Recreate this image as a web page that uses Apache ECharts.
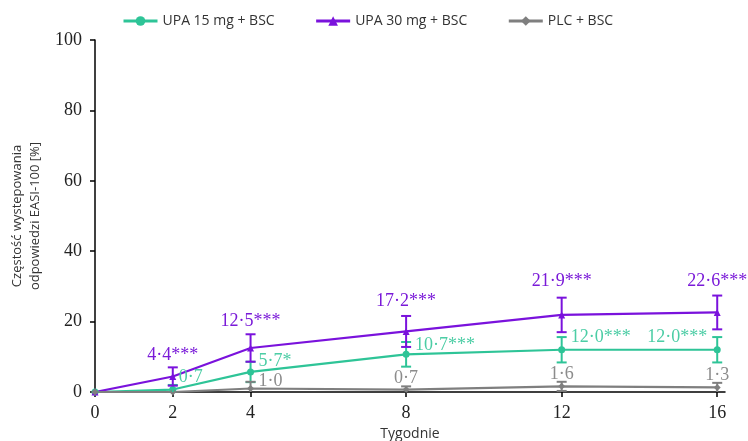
<!DOCTYPE html>
<html><head><meta charset="utf-8">
<script src="https://cdn.jsdelivr.net/npm/echarts@6/dist/echarts.min.js"></script>
<style>html,body{margin:0;padding:0;background:#fff}#c{width:748px;height:441px}</style>
</head><body><div id="c"></div>
<script>
// ---- data ----
const weeks = [0, 2, 4, 8, 12, 16];
const xTickLabels = [0, 2, 4, 8, 12, 16];
const seriesNames = ['UPA 15 mg + BSC', 'UPA 30 mg + BSC', 'PLC + BSC'];
const upa15 = [0, 0.7, 5.7, 10.7, 12.0, 12.0];
const upa15Err = [0, 1.3, 2.9, 3.5, 3.6, 3.6];
const upa15Sig = ['', '', '*', '***', '***', '***'];
const upa30 = [0, 4.4, 12.5, 17.2, 21.9, 22.6];
const upa30Err = [0, 2.6, 3.9, 4.4, 4.9, 4.8];
const upa30Sig = ['', '***', '***', '***', '***', '***'];
const plc = [0, 0, 1.0, 0.7, 1.6, 1.3];
const plcErr = [0, 0, 1.9, 0.9, 1.3, 1.3];
const plcSig = ['', '', '', '', '', ''];
const yTicks = [0, 20, 40, 60, 80, 100];

// ---- style ----
const GREEN = '#2ec497', PURPLE = '#7a12dc', GRAY = '#7f7f7f';
const GREEN_T = '#4ccda5', PURPLE_T = '#7a1ad8', GRAY_T = '#8c8c8c';
const SERIF = '"Liberation Serif", "DejaVu Serif", serif';
const SANS = '"Open Sans", "Noto Sans", sans-serif';

function fmt(v){ return v.toFixed(1).replace('.', '\u00b7'); }

// label placement per point (code-side styling)
const place15 = [null, {a:'v',dx:6,dy:-12,al:'left'}, {a:'v',dx:8,dy:-11,al:'left'}, {a:'v',dx:9,dy:-9,al:'left'}, {a:'v',dx:9,dy:-12,al:'left'}, {a:'v',dx:-10,dy:-12,al:'right'}];
const place30 = [null, {a:'t',dx:0,dy:-12,al:'center'}, {a:'t',dx:0,dy:-13,al:'center'}, {a:'t',dx:0,dy:-15,al:'center'}, {a:'t',dx:0,dy:-16,al:'center'}, {a:'t',dx:0,dy:-14,al:'center'}];
const placePlc = [null, null, {a:'v',dx:8,dy:-7,al:'left'}, {a:'v',dx:0,dy:-11,al:'center'}, {a:'v',dx:0,dy:-12,al:'center'}, {a:'v',dx:0,dy:-12,al:'center'}];

function lineSeries(name, vals, color, symbol, size){
  return {
    name, type:'line', data: weeks.map((w,i)=>[w, vals[i]]),
    symbol, symbolSize: size, showAllSymbol:true,
    lineStyle:{color, width:2.2}, itemStyle:{color},
    emphasis:{disabled:true}, z:3
  };
}
function errSeries(vals, errs, sig, place, color, tcolor){
  return {
    type:'custom', silent:true, z:4,
    data: weeks.map((w,i)=>[w, Math.max(0, vals[i]-errs[i]), vals[i]+errs[i], vals[i], i]),
    renderItem(params, api){
      const i = api.value(4), x = api.value(0);
      const lo = api.coord([x, api.value(1)]);
      const hi = api.coord([x, api.value(2)]);
      const pt = api.coord([x, api.value(3)]);
      const ch = [];
      const st = {stroke: color, lineWidth: 2};
      if (errs[i] > 0){
        ch.push({type:'line', shape:{x1:lo[0],y1:lo[1],x2:hi[0],y2:hi[1]}, style:st});
        ch.push({type:'line', shape:{x1:hi[0]-5,y1:hi[1],x2:hi[0]+5,y2:hi[1]}, style:st});
        if (api.value(1) > 0) ch.push({type:'line', shape:{x1:lo[0]-5,y1:lo[1],x2:lo[0]+5,y2:lo[1]}, style:st});
      }
      const p = place[i];
      if (p){
        const base = p.a === 't' ? hi : pt;
        ch.push({type:'text', x: base[0]+p.dx, y: base[1]+p.dy,
          style:{text: fmt(vals[i]) + sig[i], fill: tcolor, font: '18px ' + SERIF, align: p.al, verticalAlign:'middle'}});
      }
      return {type:'group', children: ch};
    }
  };
}

const chart = echarts.init(document.getElementById('c'), null, {renderer:'canvas'});
chart.setOption({
  animation:false,
  backgroundColor:'#fff',
  grid:{left:95, right:23, top:40, bottom:49, containLabel:false, outerBoundsMode:'none'},
  legend:{
    data: seriesNames, top:9, left:117, itemGap:40, itemWidth:34, itemHeight:12,
    textStyle:{fontFamily:SANS, fontSize:14, color:'#333'},
    lineStyle:{width:3}
  },
  xAxis:{
    type:'value', min:0, max:16.2,
    name:'Tygodnie', nameLocation:'middle', nameGap:35,
    nameTextStyle:{fontFamily:SANS, fontSize:14, color:'#333'},
    axisLine:{lineStyle:{color:'#000', width:1.5}},
    axisTick:{show:true, customValues: xTickLabels, length:5, lineStyle:{color:'#000', width:1.5}},
    axisLabel:{customValues: xTickLabels, fontFamily:SERIF, fontSize:18, color:'#222', margin:12},
    splitLine:{show:false}
  },
  yAxis:{
    type:'value', min:0, max:100, interval:20,
    name:'Częstość wystepowania\nodpowiedzi EASI-100 [%]', nameLocation:'middle', nameRotate:90, nameGap:48,
    nameTextStyle:{fontFamily:SANS, fontSize:13, color:'#333', lineHeight:18},
    axisLine:{show:true, lineStyle:{color:'#000', width:1.5}},
    axisTick:{show:true, length:5, lineStyle:{color:'#000', width:1.5}},
    axisLabel:{fontFamily:SERIF, fontSize:18, color:'#222', margin:13},
    splitLine:{show:false}
  },
  series:[
    lineSeries(seriesNames[0], upa15, GREEN, 'circle', 7),
    lineSeries(seriesNames[1], upa30, PURPLE, 'triangle', 7),
    lineSeries(seriesNames[2], plc, GRAY, 'diamond', 7),
    errSeries(upa15, upa15Err, upa15Sig, place15, GREEN, GREEN_T),
    errSeries(upa30, upa30Err, upa30Sig, place30, PURPLE, PURPLE_T),
    errSeries(plc, plcErr, plcSig, placePlc, GRAY, GRAY_T)
  ]
});
</script></body></html>
